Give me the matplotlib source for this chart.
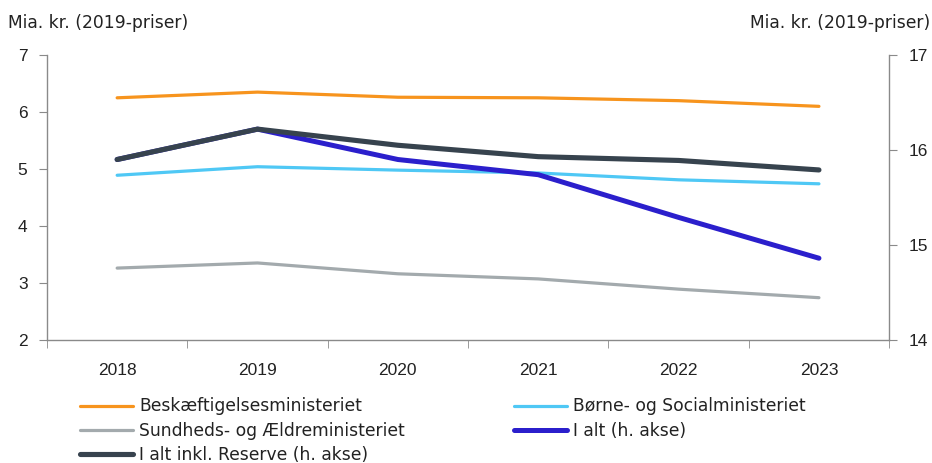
import matplotlib
matplotlib.use("Agg")
import matplotlib.pyplot as plt
import numpy as np

plt.rcParams['font.family'] = ['Liberation Sans', 'DejaVu Sans']

years = ["2018", "2019", "2020", "2021", "2022", "2023"]
beskaeft = [6.25, 6.35, 6.26, 6.25, 6.20, 6.10]
boerne = [4.89, 5.04, 4.98, 4.93, 4.81, 4.74]
sundhed = [3.26, 3.35, 3.16, 3.07, 2.89, 2.74]
i_alt = [15.90, 16.22, 15.90, 15.74, 15.29, 14.86]
i_alt_reserve = [15.90, 16.22, 16.05, 15.93, 15.89, 15.79]

c_orange = "#f7941d"
c_lblue = "#4fc8f5"
c_gray = "#a3aaad"
c_blue = "#2b1fcc"
c_dark = "#37434e"
c_axis = "#8a8a8a"
c_text = "#222222"
fs_tick = 12.5
fs_text = 12.3
text_family = ['DejaVu Sans']

fig = plt.figure(figsize=(9.32, 4.63), dpi=100)
ax = fig.add_axes([0.0504, 0.266, 0.9036, 0.615])
ax2 = ax.twinx()

x = np.arange(len(years))
l1, = ax.plot(x, beskaeft, color=c_orange, lw=2.3, solid_capstyle='round')
l2, = ax.plot(x, boerne, color=c_lblue, lw=2.3, solid_capstyle='round')
l3, = ax.plot(x, sundhed, color=c_gray, lw=2.3, solid_capstyle='round')
l4, = ax2.plot(x, i_alt, color=c_blue, lw=3.6, solid_capstyle='round')
l5, = ax2.plot(x, i_alt_reserve, color=c_dark, lw=3.7, solid_capstyle='round')

ax.set_xlim(-0.5, len(years) - 0.5)
ax.set_ylim(2, 7)
ax2.set_ylim(14, 17)
ax.set_yticks([2, 3, 4, 5, 6, 7])
ax2.set_yticks([14, 15, 16, 17])

ax.set_xticks(x)
ax.set_xticklabels(years)
ax.set_xticks(np.arange(-0.5, len(years)), minor=True)
ax.tick_params(axis='x', which='major', length=0, pad=17, labelsize=fs_tick, labelcolor=c_text)
ax.tick_params(axis='x', which='minor', length=6, color=c_axis, direction='out')
ax.tick_params(axis='y', length=6, color=c_axis, labelsize=fs_tick, labelcolor=c_text, pad=8)
ax2.tick_params(axis='y', length=6, color=c_axis, labelsize=fs_tick, labelcolor=c_text, pad=8)

for a in (ax, ax2):
    a.spines['top'].set_visible(False)
    for s in ('left', 'right', 'bottom'):
        a.spines[s].set_color(c_axis)
        a.spines[s].set_linewidth(1.0)
ax.spines['right'].set_visible(False)
ax2.spines['left'].set_visible(False)
ax2.spines['bottom'].set_visible(False)

fig.text(0.009, 0.950, "Mia. kr. (2019-priser)", fontsize=fs_text, family=text_family,
         color=c_text, ha='left', va='center')
fig.text(0.998, 0.950, "Mia. kr. (2019-priser)", fontsize=fs_text, family=text_family,
         color=c_text, ha='right', va='center')

legkw = dict(loc='upper left', frameon=False, handlelength=3.1,
             prop={'family': text_family, 'size': fs_text},
             handletextpad=0.35, labelspacing=0.37, borderaxespad=0, borderpad=0)
leg1 = fig.legend([l1, l3, l5],
                  ["Beskæftigelsesministeriet", "Sundheds- og Ældreministeriet",
                   "I alt inkl. Reserve (h. akse)"],
                  bbox_to_anchor=(0.086, 0.1415), **legkw)
leg2 = fig.legend([l2, l4],
                  ["Børne- og Socialministeriet", "I alt (h. akse)"],
                  bbox_to_anchor=(0.552, 0.1415), **legkw)
for lg in (leg1, leg2):
    for h in lg.get_lines():
        h.set_solid_capstyle('round')
    for t in lg.get_texts():
        t.set_color(c_text)

fig.savefig("out.png", dpi=100)
